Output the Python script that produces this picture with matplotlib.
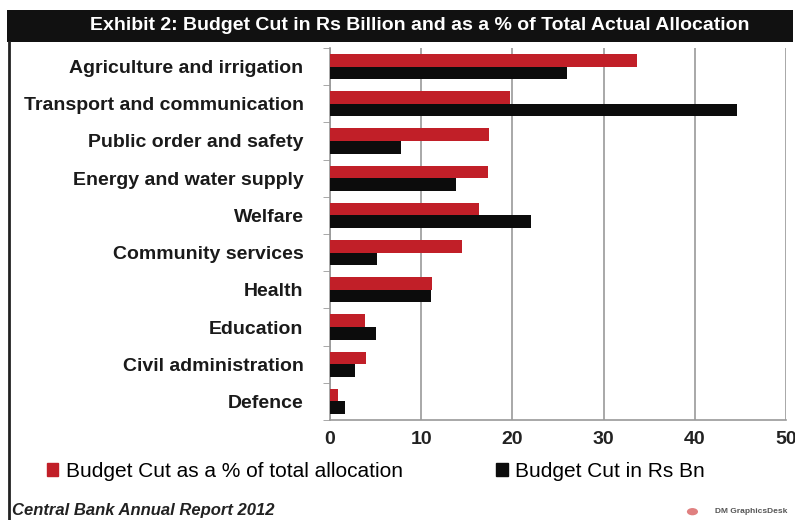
import matplotlib.pyplot as plt
import matplotlib.patches as mpatches
import numpy as np

sectors = ["Agriculture and irrigation", "Transport and communication",
           "Public order and safety", "Energy and water supply", "Welfare",
           "Community services", "Health", "Education",
           "Civil administration", "Defence"]
cut_pct = [33.7, 19.7, 17.4, 17.3, 16.3, 14.5, 11.2, 3.8, 3.9, 0.9]
cut_bn = [26.0, 44.6, 7.8, 13.8, 22.0, 5.2, 11.1, 5.1, 2.7, 1.6]
x_ticks = [0, 10, 20, 30, 40, 50]

RED = "#c11f28"
BLACK = "#0c0c0c"
GRID = "#9a9a9a"

plt.rcParams['font.family'] = ['Liberation Sans', 'DejaVu Sans']

fig = plt.figure(figsize=(7.95, 5.2), dpi=100)

# title band and left frame line
fig.patches.append(mpatches.Rectangle((0.009, 0.919), 0.989, 0.062,
                                      transform=fig.transFigure,
                                      facecolor="#111111", edgecolor="none"))
fig.lines.append(plt.Line2D([0.011, 0.011], [0.0, 0.92], transform=fig.transFigure,
                            color="#222222", lw=2))
fig.text(0.528, 0.950, "Exhibit 2: Budget Cut in Rs Billion and as a % of Total Actual Allocation",
         color="white", ha="center", va="center", fontsize=14, fontweight="bold")

ax = fig.add_axes([0.415, 0.1923, 0.574, 0.7154])
y = np.arange(len(sectors))
h = 0.34
ax.barh(y - h / 2, cut_pct, height=h, color=RED, zorder=3)
ax.barh(y + h / 2, cut_bn, height=h, color=BLACK, zorder=3)

ax.set_ylim(len(sectors) - 0.5, -0.5)
ax.set_xlim(0, 50)
ax.set_xticks(x_ticks)
ax.set_xticklabels([str(t) for t in x_ticks], fontsize=14, fontweight="bold", color="#222222")
ax.set_yticks(y)
ax.set_yticklabels(sectors, fontsize=14, fontweight="bold", color="#1a1a1a")
ax.set_yticks(np.arange(len(sectors) + 1) - 0.5, minor=True)
ax.tick_params(axis="y", which="major", length=0, pad=19)
ax.tick_params(axis="y", which="minor", length=5, color=GRID)
ax.tick_params(axis="x", length=0, pad=8)
ax.xaxis.grid(True, color=GRID, lw=1.2, zorder=0)
for s in ["top", "right"]:
    ax.spines[s].set_visible(False)
ax.spines["left"].set_color(GRID)
ax.spines["bottom"].set_color(GRID)
ax.spines["left"].set_linewidth(1.2)
ax.spines["bottom"].set_linewidth(1.2)

# legend row
handles = [mpatches.Patch(color=RED, label="Budget Cut as a % of total allocation"),
           mpatches.Patch(color=BLACK, label="Budget Cut in Rs Bn")]
fig.legend(handles=handles, loc="center left", bbox_to_anchor=(0.059, 0.094),
           ncol=2, frameon=False, fontsize=15, handlelength=0.55, handleheight=0.55,
           handletextpad=0.35, columnspacing=4.5, borderpad=0, borderaxespad=0)

fig.text(0.015, 0.018, "Central Bank Annual Report 2012", fontsize=12,
         fontweight="bold", fontstyle="italic", color="#222222", va="center")
fig.text(0.99, 0.016, "DM GraphicsDesk", fontsize=6, fontweight="bold",
         color="#555555", ha="right", va="center")
fig.patches.append(mpatches.Circle((0.871, 0.016), 0.007, transform=fig.transFigure,
                                   facecolor="#e08080", edgecolor="none"))

fig.savefig("out.png", dpi=100)
